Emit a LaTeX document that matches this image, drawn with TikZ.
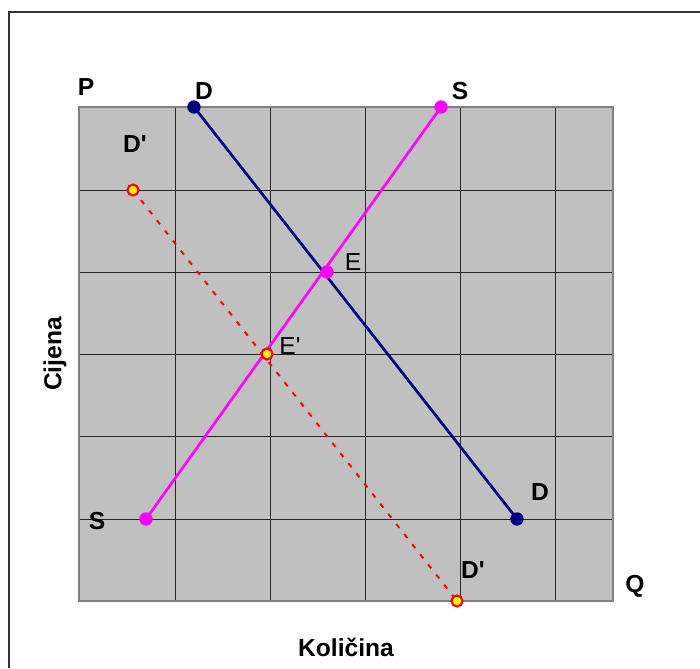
\documentclass[tikz,border=0pt]{standalone}
\usepackage{fontspec}
\setmainfont{Liberation Sans}
\definecolor{plotgray}{RGB}{192,192,192}
\definecolor{framegray}{RGB}{128,128,128}
\definecolor{dnavy}{RGB}{0,0,128}
\definecolor{smagenta}{RGB}{255,0,255}
\begin{document}
\begin{tikzpicture}[x=0.03cm, y=-0.03cm,
    lbl/.style={font=\fontsize{21}{25}\selectfont\bfseries, inner sep=0pt},
    ptlbl/.style={font=\fontsize{21}{25}\selectfont, inner sep=0pt},
    dot/.style={circle, inner sep=0pt, minimum size=0.4cm},
    newdot/.style={circle, inner sep=0pt, minimum size=0.33cm, fill=yellow, draw=red, line width=1.8pt}]
    \useasboundingbox (0,0) rectangle (700,668);

    % Outer frame (cut at the right and bottom)
    \draw[line width=1.2pt, black!80] (9,668) -- (9,12) -- (700,12);

    % Plot area
    \fill[plotgray] (79,107) rectangle (613,601);
    \foreach \x in {175,270,365,460,555}
        \draw[line width=0.7pt, black!85] (\x,107) -- (\x,601);
    \foreach \y in {190,272,354,436,519}
        \draw[line width=0.7pt, black!85] (79,\y) -- (613,\y);
    \draw[line width=2.2pt, framegray] (79,107) rectangle (613,601);

    % End points of the curves
    \coordinate (dtop) at (194,107);
    \coordinate (dbot) at (517,519);
    \coordinate (sbot) at (146,519);
    \coordinate (stop) at (441,107);
    \coordinate (dntop) at (133,190);
    \coordinate (dnbot) at (457,601);

    % Shifted demand D' (dotted)
    \draw[red, line width=1.7pt, dash pattern=on 4.2pt off 6.8pt] (dntop) -- (dnbot);

    % Demand D and supply S
    \draw[dnavy, line width=2.3pt] (dtop) -- (dbot);
    \draw[smagenta, line width=2.3pt] (sbot) -- (stop);

    % Points
    \node[dot, fill=dnavy] (d1) at (dtop) {};
    \node[dot, fill=dnavy] (d2) at (dbot) {};
    \node[dot, fill=smagenta] (s1) at (sbot) {};
    \node[dot, fill=smagenta] (s2) at (stop) {};
    \node[dot, fill=smagenta] (e) at (327,272) {};
    \node[newdot] (en) at (267,354) {};
    \node[newdot] (dn1) at (dntop) {};
    \node[newdot] (dn2) at (dnbot) {};

    % Labels
    \node[lbl] (p) at (86,87) {P};
    \node[lbl] (q) at (635,586) {Q};
    \node[lbl] (dlbl1) at (204,91) {D};
    \node[lbl] (slbl2) at (460,91) {S};
    \node[lbl] (dnlbl1) at (135,144) {D\textquotesingle};
    \node[lbl] (slbl1) at (97,521) {S};
    \node[lbl] (dlbl2) at (540,492) {D};
    \node[lbl] (dnlbl2) at (473,570) {D\textquotesingle};
    \node[ptlbl] (elbl) at (353,262) {E};
    \node[ptlbl] (enlbl) at (290,346) {E\textquotesingle};

    % Axis titles
    \node[lbl, rotate=90] (ytitle) at (55,354) {Cijena};
    \node[lbl] (xtitle) at (346,647) {Količina};
\end{tikzpicture}
\end{document}
